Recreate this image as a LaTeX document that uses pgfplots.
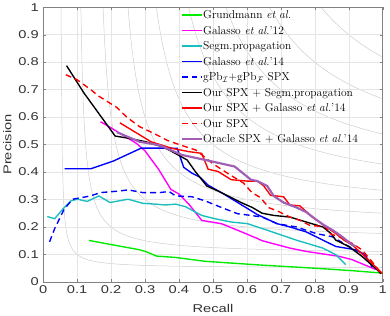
\documentclass[border=0pt]{standalone}
\usepackage{fontspec}
\usepackage{pgfplots}
\pgfplotsset{compat=1.18}
\newfontfamily\ticksans[FakeStretch=1.3]{Liberation Sans}
\definecolor{cgreen}{RGB}{0,235,0}
\definecolor{cmag}{RGB}{255,0,255}
\definecolor{cblue}{RGB}{0,0,255}
\definecolor{cred}{RGB}{255,0,0}
\definecolor{oracle}{RGB}{160,95,180}
\definecolor{segm}{RGB}{25,190,190}
\definecolor{axgray}{RGB}{130,130,130}
\definecolor{isof}{RGB}{205,205,205}
% legend rows: text and sample lines are drawn in two passes
\newcommand{\legtext}[2]{%
  \node[anchor=base west,inner sep=0pt] at (21.6pt,{-11.8pt-#1*15.8pt}) {#2};}
\newcommand{\legline}[2]{%
  \draw[line width=1.4pt,#2] (0pt,{-7.9pt-#1*15.8pt}) -- (21pt,{-7.9pt-#1*15.8pt});}

\begin{document}
\begin{tikzpicture}
\begin{axis}[
  set layers,
  scale only axis,width=346pt,height=280pt,
  xmin=0,xmax=1,ymin=0,ymax=1,
  xtick={0,0.1,...,1},ytick={0,0.1,...,1},
  tick align=inside,major tick length=3pt,
  axis line style={axgray},tick style={axgray},
  grid=major,grid style={black!10,line width=0.4pt},
  /pgf/number format/assume math mode=true,
  /pgf/number format/.cd,fixed,precision=1,
  /pgfplots/.cd,
  tick label style={font=\fontsize{11.5}{13}\ticksans,color=black!80},
  yticklabel style={xshift=-1pt},
  xlabel={Recall},ylabel={Precision},
  label style={font=\fontsize{11.5}{13}\ticksans,color=black!80},
  xlabel style={yshift=-4pt},
  every axis plot/.append style={line width=1.4pt},
]
% iso-F curves, behind everything
\pgfplotsinvokeforeach{0.1,0.2,0.3,0.4,0.5,0.6,0.7,0.8,0.9}{
  \addplot[isof,line width=0.5pt,domain={#1/(2-#1)}:1,samples=250,on layer=axis background] {#1*x/(2*x-#1)};
}
% Grundmann et al.
\addplot[cgreen] coordinates {(0.135,0.151) (0.2,0.136) (0.284,0.117) (0.303,0.11) (0.334,0.094) (0.39,0.089) (0.477,0.075) (0.573,0.067) (0.645,0.061) (0.73,0.055) (0.824,0.048) (0.92,0.04) (1.0,0.032)};
% Galasso et al. '12
\addplot[cmag] coordinates {(0.169,0.583) (0.197,0.563) (0.275,0.504) (0.30,0.477) (0.34,0.41) (0.376,0.337) (0.40,0.32) (0.429,0.283) (0.448,0.254) (0.467,0.224) (0.525,0.212) (0.573,0.188) (0.631,0.158) (0.645,0.15) (0.727,0.123) (0.775,0.111) (0.872,0.093) (0.91,0.081) (0.98,0.045)};
% Segm. propagation
\addplot[segm] coordinates {(0.012,0.238) (0.034,0.23) (0.058,0.265) (0.082,0.295) (0.101,0.301) (0.13,0.293) (0.164,0.313) (0.197,0.289) (0.25,0.301) (0.294,0.286) (0.332,0.283) (0.361,0.28) (0.39,0.283) (0.419,0.274) (0.443,0.258) (0.467,0.242) (0.506,0.23) (0.554,0.218) (0.602,0.212) (0.631,0.2) (0.689,0.176) (0.746,0.152) (0.824,0.123) (0.862,0.099) (0.891,0.063)};
% Galasso et al. '14
\addplot[cblue] coordinates {(0.063,0.412) (0.141,0.412) (0.207,0.44) (0.289,0.487) (0.371,0.487) (0.395,0.486) (0.414,0.417) (0.438,0.396) (0.462,0.381) (0.486,0.352) (0.525,0.325) (0.573,0.289) (0.631,0.245) (0.689,0.212) (0.727,0.2) (0.775,0.182) (0.824,0.152) (0.862,0.129) (0.92,0.117) (0.949,0.099) (0.96,0.07)};
% gPb_I + gPb_F SPX
\addplot[cblue,dash pattern=on 6pt off 4pt] coordinates {(0.019,0.146) (0.034,0.194) (0.062,0.265) (0.087,0.301) (0.14,0.313) (0.168,0.325) (0.226,0.331) (0.25,0.335) (0.294,0.325) (0.342,0.325) (0.371,0.329) (0.39,0.313) (0.438,0.31) (0.477,0.295) (0.525,0.271) (0.573,0.248) (0.612,0.242) (0.645,0.236) (0.689,0.212) (0.746,0.2) (0.804,0.176) (0.853,0.164) (0.9,0.129) (0.939,0.105) (0.963,0.069) (0.97,0.05)};
% Our SPX + Segm. propagation
\addplot[black] coordinates {(0.069,0.787) (0.12,0.688) (0.212,0.531) (0.246,0.524) (0.303,0.51) (0.351,0.492) (0.38,0.474) (0.424,0.444) (0.448,0.402) (0.482,0.349) (0.515,0.331) (0.554,0.307) (0.583,0.289) (0.616,0.271) (0.645,0.25) (0.679,0.242) (0.727,0.236) (0.775,0.218) (0.824,0.2) (0.848,0.176) (0.862,0.152) (0.9,0.129) (0.939,0.093) (0.983,0.045) (0.995,0.03)};
% Our SPX + Galasso et al. '14
\addplot[cred] coordinates {(0.226,0.579) (0.318,0.51) (0.38,0.486) (0.43,0.474) (0.467,0.468) (0.486,0.41) (0.515,0.402) (0.554,0.372) (0.60,0.367) (0.631,0.367) (0.65,0.349) (0.67,0.315) (0.708,0.31) (0.727,0.28) (0.756,0.277) (0.785,0.245) (0.814,0.218) (0.833,0.2) (0.862,0.176) (0.886,0.152) (0.91,0.135) (0.95,0.09) (1.0,0.03)};
% Our SPX
\addplot[cred,dash pattern=on 6pt off 4pt] coordinates {(0.067,0.754) (0.10,0.736) (0.14,0.70) (0.164,0.676) (0.217,0.635) (0.246,0.60) (0.284,0.565) (0.327,0.54) (0.366,0.515) (0.40,0.50) (0.45,0.48) (0.50,0.43) (0.55,0.39) (0.59,0.36) (0.615,0.325) (0.64,0.307) (0.665,0.27) (0.694,0.256) (0.727,0.236) (0.756,0.224) (0.785,0.206) (0.833,0.2) (0.843,0.176) (0.872,0.164) (0.91,0.14) (0.939,0.117) (0.968,0.075) (0.997,0.027)};
% Oracle SPX + Galasso et al. '14
\addplot[oracle,line width=2.2pt] coordinates {(0.217,0.545) (0.284,0.51) (0.342,0.498) (0.409,0.462) (0.477,0.444) (0.564,0.42) (0.612,0.372) (0.631,0.367) (0.66,0.349) (0.679,0.313) (0.708,0.289) (0.746,0.271) (0.775,0.254) (0.80,0.23) (0.828,0.206) (0.853,0.188) (0.881,0.164) (0.91,0.135) (0.92,0.13)};
\end{axis}
% legend (no frame, no fill): texts first, then the sample lines
\begin{scope}[shift={(current axis.north west)},xshift=141.3pt,font=\fontsize{11.7}{14}\selectfont]
\legtext{0}{Grundmann \textit{et al.}}
\legtext{1}{Galasso \textit{et al.}'12}
\legtext{2}{Segm.propagation}
\legtext{3}{Galasso \textit{et al.}'14}
\legtext{4}{gPb$_\mathcal{I}$+gPb$_\mathcal{F}$ SPX}
\legtext{5}{Our SPX + Segm.propagation}
\legtext{6}{Our SPX + Galasso \textit{et al.}'14}
\legtext{7}{Our SPX}
\legtext{8}{Oracle SPX + Galasso \textit{et al.}'14}
\end{scope}
\begin{scope}[shift={(current axis.north west)},xshift=141.3pt]
\legline{0}{cgreen}
\legline{1}{cmag}
\legline{2}{segm}
\legline{3}{cblue}
\legline{4}{cblue,dash pattern=on 6pt off 4pt}
\legline{5}{black}
\legline{6}{cred}
\legline{7}{cred,dash pattern=on 6pt off 4pt}
\legline{8}{oracle,line width=2.2pt}
\end{scope}
\end{tikzpicture}
\end{document}
